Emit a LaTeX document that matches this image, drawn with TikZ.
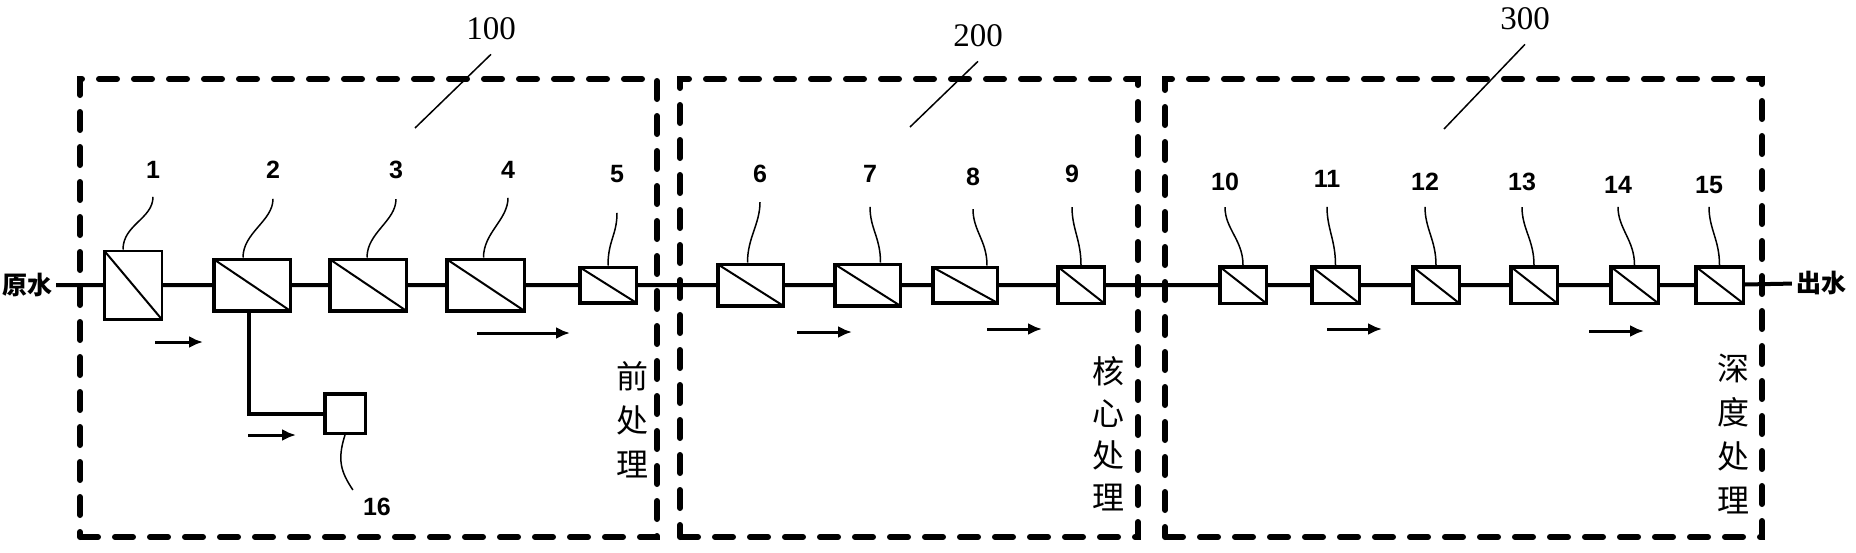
\documentclass[tikz,border=0pt]{standalone}
\usepackage{fontspec}
\usetikzlibrary{arrows.meta,positioning}
\newfontfamily\cjk{Noto Sans CJK SC}
\newfontfamily\ziffern{Liberation Sans}
\newfontfamily\nummern{Liberation Serif}

\begin{document}
\begin{tikzpicture}[x=1pt,y=-1pt,>={Latex[length=14pt,width=12pt]},
	rohr/.style={line width=4pt},
	einheit/.style={draw,line width=3.5pt,fill=white,inner sep=0pt,
		path picture={\draw[line width=2pt] (path picture bounding box.north west)--(path picture bounding box.south east);}},
	gruppe/.style={draw,line width=6pt,dash pattern=on 18pt off 17pt,line cap=round,inner sep=0pt},
	marke/.style={font=\ziffern\bfseries\fontsize{25}{25}\selectfont,inner sep=1pt},
	nummer/.style={font=\nummern\fontsize{33}{33}\selectfont,inner sep=1pt},
	fuehrung/.style={line width=1.5pt},
	fluss/.style={line width=3pt,->},
	wasser/.style={font=\cjk\bfseries\fontsize{25}{25}\selectfont,inner sep=4pt},
	stufe/.style={font=\cjk\fontsize{32}{#1}\selectfont,align=center,inner sep=0pt}]

\useasboundingbox (0,0) rectangle (1856,552);

% Bereiche
\node[gruppe,minimum width=577,minimum height=458] (g100) at (368.5,308) {};
\node[gruppe,minimum width=458,minimum height=458] (g200) at (909,308) {};
\node[gruppe,minimum width=597,minimum height=458] (g300) at (1463.5,308) {};

\node[nummer] (n100) at (491,29) {100};
\node[nummer] (n200) at (978,36) {200};
\node[nummer] (n300) at (1525,19) {300};
\coordinate (p100) at (415,128);
\coordinate (p200) at (910,127);
\coordinate (p300) at (1444,129);
\foreach \g in {100,200,300}
	\draw[fuehrung] ([yshift=-13pt]n\g.south) -- (p\g);

\node[stufe=44] (s100) at (632,420) {前\\处\\理};
\node[stufe=42] (s200) at (1108,434) {核\\心\\处\\理};
\node[stufe=44] (s300) at (1733,434) {深\\度\\处\\理};

% Einheiten
\node[einheit,line width=2.5pt,minimum width=57.5,minimum height=68.5] (b1) at (133,285) {};
\foreach \n/\x/\w/\h in {2/252/76.5/51.5,3/368/76.5/51.5,4/485.5/77.5/51.5,5/608/56.5/35.5,
	6/750.5/65.5/41.5,7/867.5/65.5/41.5,8/965/64.5/35.5,9/1081/46.5/36.5,
	10/1243/46.5/36.5,11/1335.5/47.5/36.5,12/1436/46.5/36.5,13/1534/46.5/36.5,
	14/1634.5/47.5/36.5,15/1719.5/47.5/36.5}
	\node[einheit,minimum width=\w,minimum height=\h] (b\n) at (\x,285) {};
\node[draw,line width=3.5pt,minimum width=40.5,minimum height=39.5] (b16) at (345,413.5) {};

\node[wasser] (ein) at (27,285) {原水};
\node[wasser] (aus) at (1821,283) {出水};

% Leitung
\draw[rohr] (ein) -- (b1) -- (b2) -- (b3) -- (b4) -- (b5) -- (b6) -- (b7) -- (b8)
	-- (b9) -- (b10) -- (b11) -- (b12) -- (b13) -- (b14) -- (b15) -- (aus);
\draw[rohr] ([xshift=-3pt]b2.south) |- (b16);

% Bezugszeichen
\foreach \n/\x/\y in {1/153/170,2/273/170,3/396/170,4/508/170,5/617/174,6/760/174,
	7/870/174,8/973/177,9/1072/174,10/1225/182,11/1327/179,12/1425/182,
	13/1522/182,14/1618/185,15/1709/185}
	\node[marke] (t\n) at (\x,\y) {\n};
\node[marke] (t16) at (377,507) {16};

\foreach \n/\dx/\dy in {1/-10/17,2/-9/19,3/-1/19,4/-2/18,5/0/29,6/-3/18,7/13/23,
	8/22/22,9/0/23,10/0/15,11/0/18,12/0/15,13/0/15,14/0/12,15/0/12}
	\draw[fuehrung] ([xshift=\dx pt]b\n.north) .. controls +(0,-25) and +(0,22) .. ([yshift=-\dy pt]t\n.south);
\draw[fuehrung] (b16.south) .. controls +(-8,25) and +(-12,-18) .. ([xshift=-9pt,yshift=7pt]t16.north west);

% Pfeile
\foreach \xa/\xb/\y in {155/203/342,248/296/435,477/570/333,797/852/332,
	987/1042/329,1327/1382/329,1589/1644/331}
	\draw[fluss] (\xa,\y) -- (\xb,\y);

\end{tikzpicture}
\end{document}
